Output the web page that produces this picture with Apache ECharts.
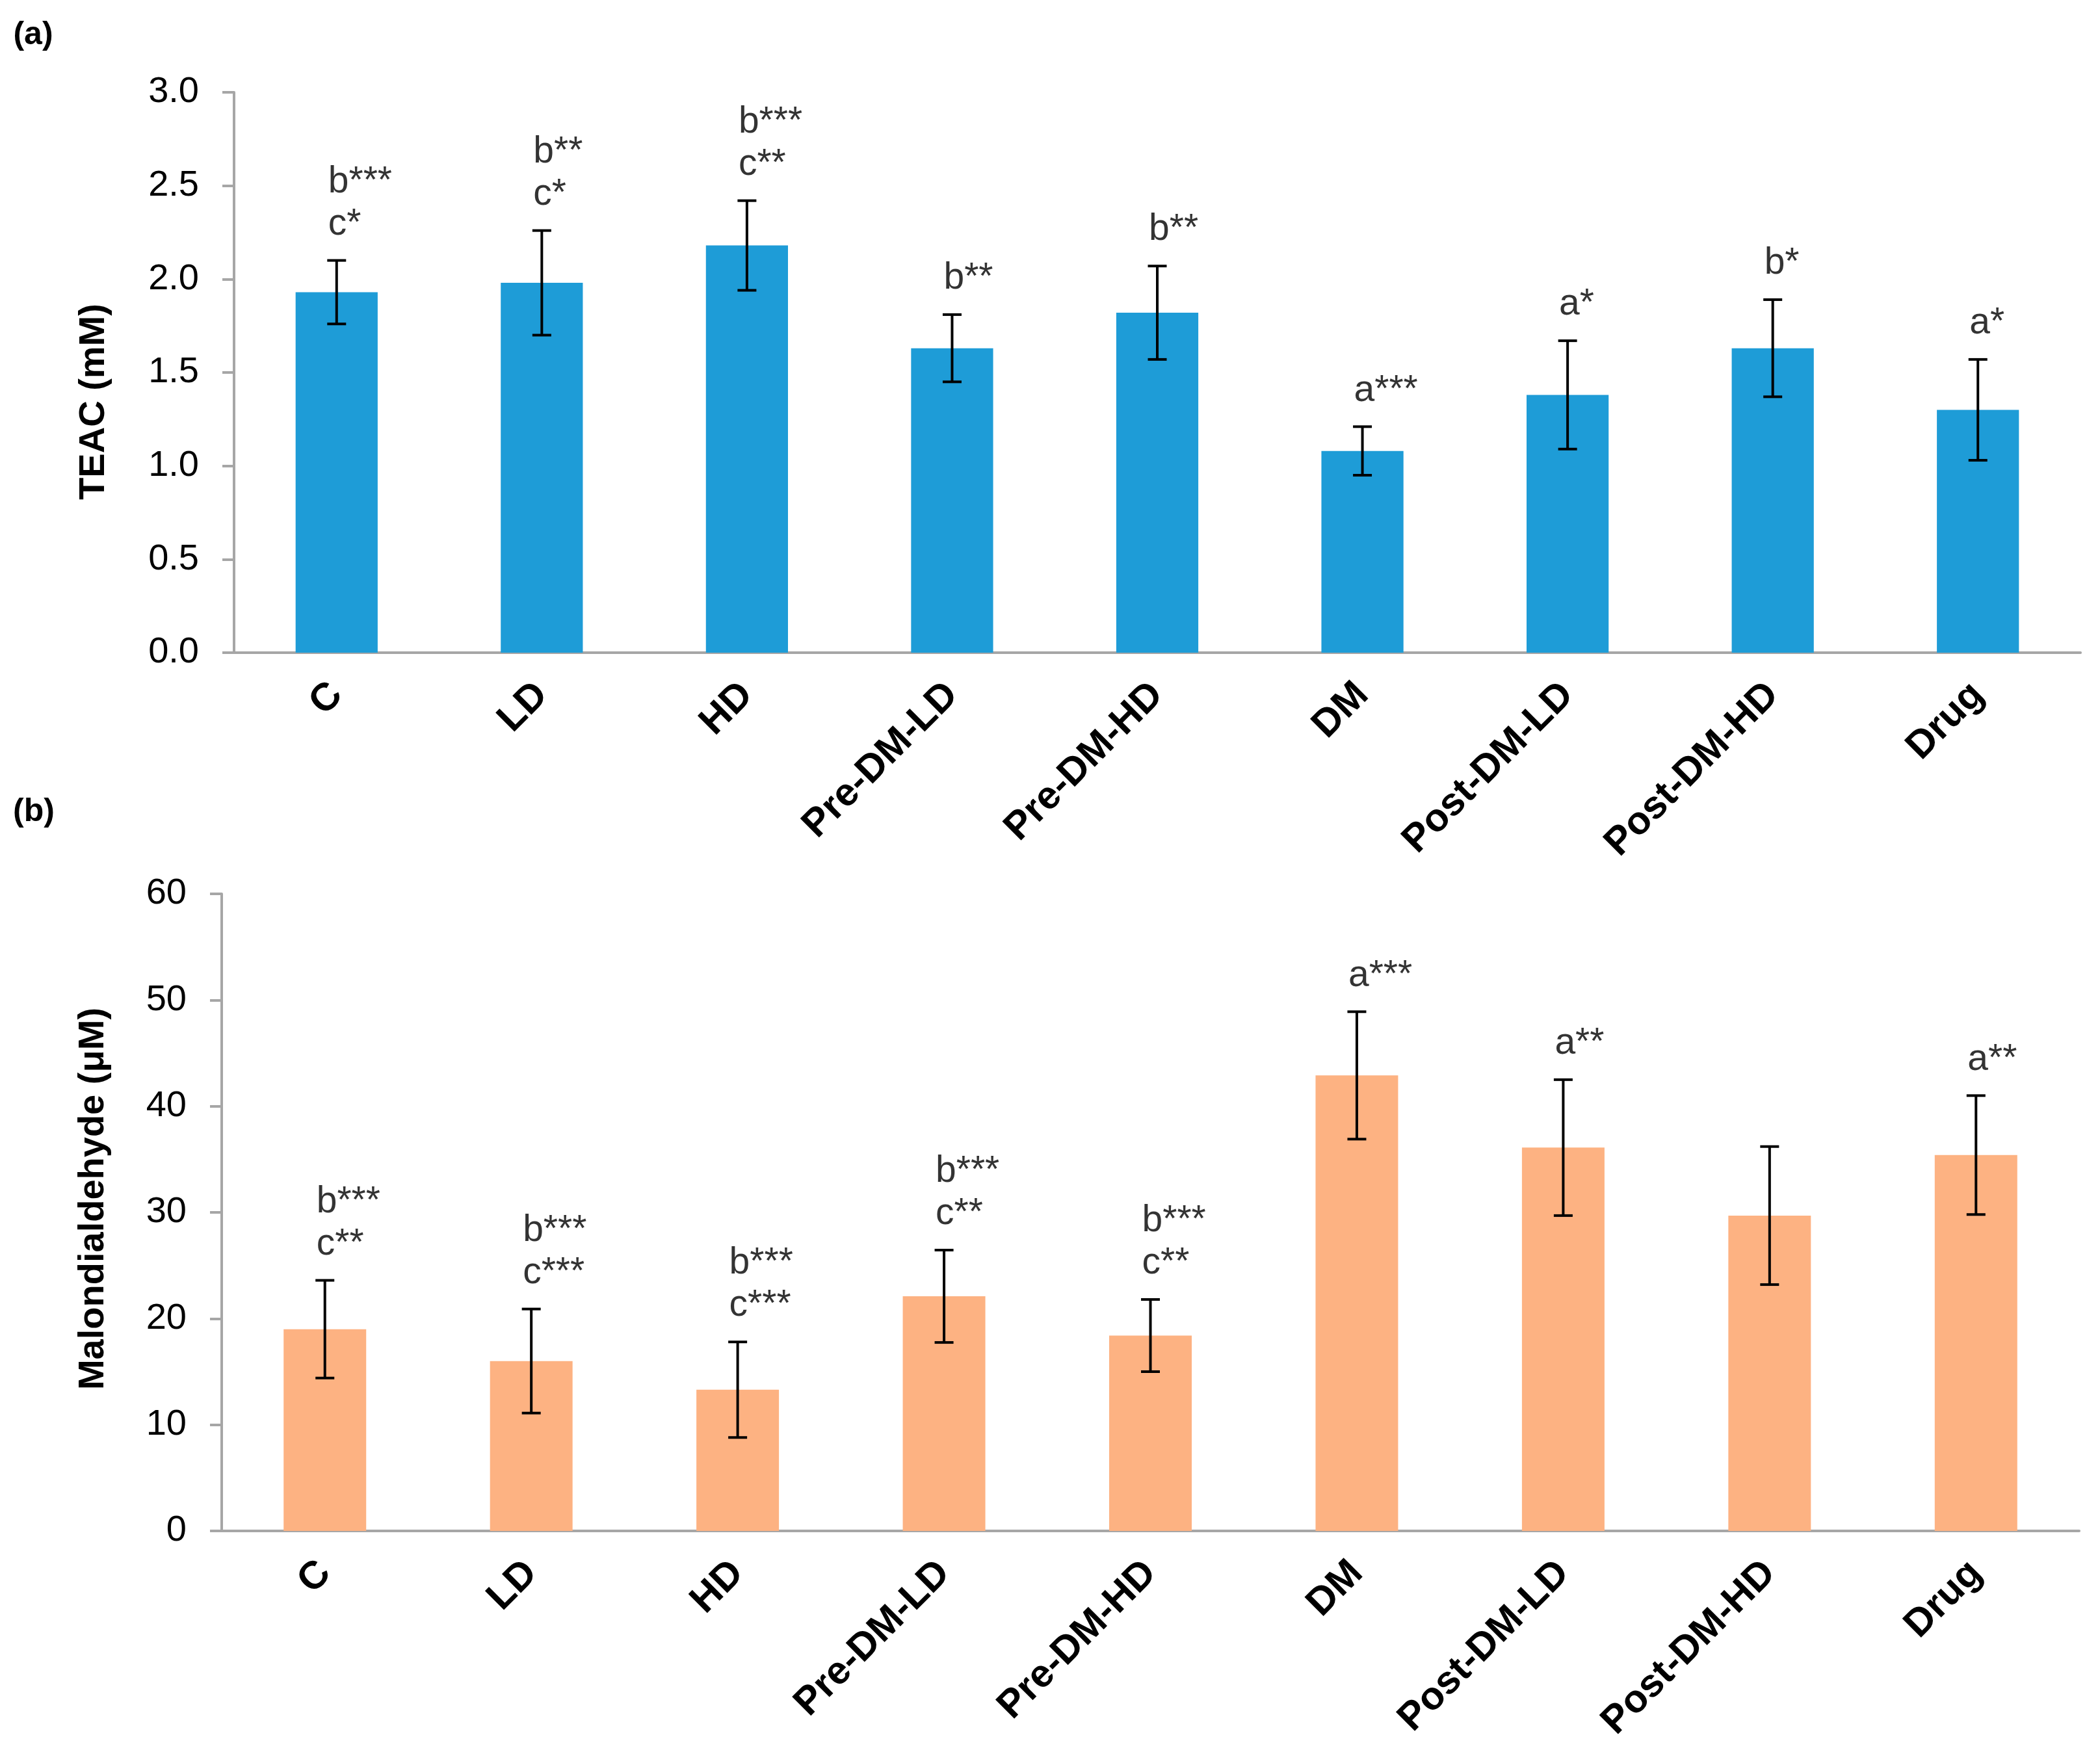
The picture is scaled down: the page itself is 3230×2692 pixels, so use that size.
<!DOCTYPE html>
<html>
<head>
<meta charset="utf-8">
<script src="https://cdn.jsdelivr.net/npm/echarts@6/dist/echarts.min.js"></script>
<style>
html,body{margin:0;padding:0;background:#fff;}
#chart{width:3230px;height:2692px;}
</style>
</head>
<body>
<div id="chart"></div>
<script>
const categories = ['C','LD','HD','Pre-DM-LD','Pre-DM-HD','DM','Post-DM-LD','Post-DM-HD','Drug'];
const teacMean = [1.93,1.98,2.18,1.63,1.82,1.08,1.38,1.63,1.30];
const teacSD   = [0.17,0.28,0.24,0.18,0.25,0.13,0.29,0.26,0.27];
const teacSig  = ['b***\nc*','b**\nc*','b***\nc**','b**','b**','a***','a*','b*','a*'];
const mdaMean  = [19.0,16.0,13.3,22.1,18.4,42.9,36.1,29.7,35.4];
const mdaSD    = [4.6,4.9,4.5,4.35,3.4,6.0,6.4,6.5,5.6];
const mdaSig   = ['b***\nc**','b***\nc***','b***\nc***','b***\nc**','b***\nc**','a***','a**','','a**'];
const teacTicks = {min:0, max:3, interval:0.5, decimals:1};
const mdaTicks  = {min:0, max:60, interval:10, decimals:0};

const FONT = "'Liberation Sans', Arial, Helvetica, sans-serif";
const chart = echarts.init(document.getElementById('chart'), null, {renderer:'canvas'});

function errRender(params, api){
  const x = api.value(0);
  const lo = api.coord([x, api.value(1)]);
  const hi = api.coord([x, api.value(2)]);
  const hw = 14.5;
  const st = {stroke:'#000', lineWidth:4};
  return {type:'group', children:[
    {type:'line', shape:{x1:lo[0], y1:lo[1], x2:hi[0], y2:hi[1]}, style:st},
    {type:'line', shape:{x1:hi[0]-hw, y1:hi[1], x2:hi[0]+hw, y2:hi[1]}, style:st},
    {type:'line', shape:{x1:lo[0]-hw, y1:lo[1], x2:lo[0]+hw, y2:lo[1]}, style:st}
  ]};
}

function xAxisCfg(gi){
  return {
    type:'category', gridIndex:gi, data:categories,
    axisLine:{show:true, lineStyle:{color:'#a6a6a6', width:4}},
    axisTick:{show:false},
    axisLabel:{interval:0, rotate:45, margin:56, fontFamily:FONT, fontWeight:'bold', fontSize:60, color:'#000'}
  };
}
function yAxisCfg(gi, t){
  return {
    type:'value', gridIndex:gi, min:t.min, max:t.max, interval:t.interval,
    splitLine:{show:false},
    axisLine:{show:true, lineStyle:{color:'#a6a6a6', width:4}},
    axisTick:{show:true, inside:false, length:18, lineStyle:{color:'#a6a6a6', width:4}},
    axisLabel:{margin:54, fontFamily:FONT, fontSize:56, color:'#000', formatter: v => v.toFixed(t.decimals)}
  };
}

const sigLabel = arr => ({show:true, position:'top', distance:23, align:'left', offset:[-13,0],
  formatter: p => arr[p.dataIndex], fontFamily:FONT, fontSize:57, lineHeight:65, color:'#000'});

const option = {
  backgroundColor:'#fff',
  animation:false,
  grid:[
    {left:360, right:30, top:142, height:862},
    {left:341, right:32, top:1375, height:980}
  ],
  xAxis:[xAxisCfg(0), xAxisCfg(1)],
  yAxis:[yAxisCfg(0, teacTicks), yAxisCfg(1, mdaTicks)],
  graphic:[
    {type:'text', x:51, y:54, style:{text:'(a)', font:"bold 50px "+FONT, fill:'#000', align:'center', verticalAlign:'middle'}},
    {type:'text', x:52, y:1249, style:{text:'(b)', font:"bold 50px "+FONT, fill:'#000', align:'center', verticalAlign:'middle'}},
    {type:'text', x:145, y:618, rotation:Math.PI/2, style:{text:'TEAC (mM)', font:"bold 56px "+FONT, fill:'#000', align:'center', verticalAlign:'middle'}},
    {type:'text', x:144, y:1844, rotation:Math.PI/2, style:{text:'Malondialdehyde (\u03bcM)', font:"bold 56px "+FONT, fill:'#000', align:'center', verticalAlign:'middle'}}
  ],
  series:[
    {type:'bar', xAxisIndex:0, yAxisIndex:0, data:teacMean, barWidth:'40%', itemStyle:{color:'#1e9cd7'}, silent:true},
    {type:'custom', xAxisIndex:0, yAxisIndex:0, renderItem:errRender, z:5, silent:true,
      data: teacMean.map((m,i)=>[i, m-teacSD[i], m+teacSD[i]])},
    {type:'scatter', xAxisIndex:0, yAxisIndex:0, symbolSize:0, silent:true, z:6,
      data: teacMean.map((m,i)=>[i, m+teacSD[i]]), label:sigLabel(teacSig)},
    {type:'bar', xAxisIndex:1, yAxisIndex:1, data:mdaMean, barWidth:'40%', itemStyle:{color:'#fdb282'}, silent:true},
    {type:'custom', xAxisIndex:1, yAxisIndex:1, renderItem:errRender, z:5, silent:true,
      data: mdaMean.map((m,i)=>[i, m-mdaSD[i], m+mdaSD[i]])},
    {type:'scatter', xAxisIndex:1, yAxisIndex:1, symbolSize:0, silent:true, z:6,
      data: mdaMean.map((m,i)=>[i, m+mdaSD[i]]), label:sigLabel(mdaSig)}
  ]
};
chart.setOption(option);
</script>
</body>
</html>
